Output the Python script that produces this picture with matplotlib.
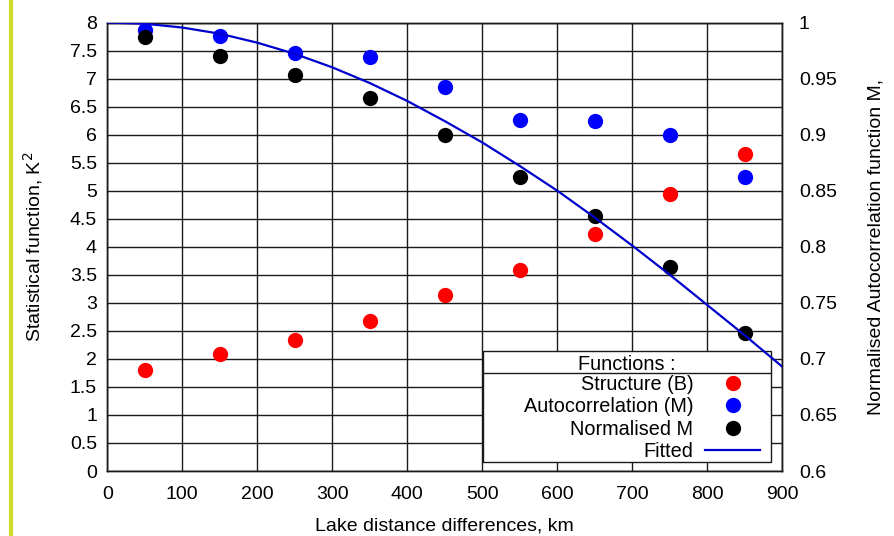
import matplotlib
matplotlib.use('Agg')
import matplotlib.pyplot as plt
from matplotlib.patches import Rectangle
from matplotlib.lines import Line2D

plt.rcParams['font.family'] = ['Liberation Sans', 'DejaVu Sans']
FS = 14
LFS = 14.3

# ---- data ----
distance_km = [50, 150, 250, 350, 450, 550, 650, 750, 850]
structure_B = [1.80, 2.08, 2.34, 2.68, 3.14, 3.59, 4.23, 4.94, 5.65]          # left axis (K^2)
autocorr_M = [0.9935, 0.988, 0.973, 0.969, 0.9425, 0.913, 0.9125, 0.8995, 0.8625]  # right axis
normalised_M = [0.9875, 0.9705, 0.953, 0.933, 0.900, 0.862, 0.827, 0.782, 0.723]   # right axis
fitted_km = [0, 50, 100, 150, 200, 250, 300, 350, 400, 450, 500, 550, 600, 650,
             700, 750, 800, 850, 900]
fitted_M = [1.0, 0.9989, 0.9955, 0.990, 0.982, 0.972, 0.960, 0.946, 0.930, 0.912,
            0.893, 0.872, 0.850, 0.826, 0.801, 0.775, 0.748, 0.721, 0.693]

x_ticks = [0, 100, 200, 300, 400, 500, 600, 700, 800, 900]
left_ticks = [0, 0.5, 1, 1.5, 2, 2.5, 3, 3.5, 4, 4.5, 5, 5.5, 6, 6.5, 7, 7.5, 8]
left_labels = ['0', '0.5', '1', '1.5', '2', '2.5', '3', '3.5', '4', '4.5', '5',
               '5.5', '6', '6.5', '7', '7.5', '8']
right_ticks = [0.6, 0.65, 0.7, 0.75, 0.8, 0.85, 0.9, 0.95, 1.0]
right_labels = ['0.6', '0.65', '0.7', '0.75', '0.8', '0.85', '0.9', '0.95', '1']

legend_labels = ['Structure (B)', 'Autocorrelation (M)', 'Normalised M', 'Fitted']

W, H = 894, 536
fig = plt.figure(figsize=(W / 100, H / 100), dpi=100)
ax = fig.add_axes([107.3 / W, 65 / H, 675 / W, 448.5 / H])
ax2 = ax.twinx()

ax.set_xlim(0, 900)
ax.set_ylim(0, 8)
ax2.set_ylim(0.6, 1.0)

ax.set_xticks(x_ticks)
ax.set_xticklabels([str(v) for v in x_ticks])
ax.set_yticks(left_ticks)
ax.set_yticklabels(left_labels)
ax2.set_yticks(right_ticks)
ax2.set_yticklabels(right_labels)

ax.tick_params(axis='y', length=0, pad=7.5, labelsize=FS)
ax.tick_params(axis='x', length=0, pad=11, labelsize=FS)
ax2.tick_params(axis='y', length=0, pad=12, labelsize=FS)

ax.grid(True, color='#1a1a1a', lw=1.0)
ax.set_axisbelow(True)
for a in (ax, ax2):
    for s in a.spines.values():
        s.set_color('#1a1a1a')
        s.set_linewidth(1.0)

h_red, = ax.plot(distance_km, structure_B, 'o', color='#ff0000', ms=11, mec='none', zorder=3)
h_blue, = ax2.plot(distance_km, autocorr_M, 'o', color='#0000ff', ms=11, mec='none', zorder=3)
h_black, = ax2.plot(distance_km, normalised_M, 'o', color='#000000', ms=11, mec='none', zorder=3)
h_fit, = ax2.plot(fitted_km, fitted_M, '-', color='#0000cc', lw=1.6, zorder=4)

# legend box
x0 = (483.3 - 107.3) / 675
x1 = (771 - 107.3) / 675
y0 = (471 - 461.5) / 448.5
y1 = (471 - 350.7) / 448.5
ysep = (471 - 372.7) / 448.5
ax.add_patch(Rectangle((x0, y0), x1 - x0, y1 - y0, transform=ax.transAxes,
                       facecolor='white', edgecolor='#1a1a1a', lw=1.0, zorder=4,
                       clip_on=False))
ax.add_line(Line2D([x0, x1], [ysep, ysep], transform=ax.transAxes, color='#1a1a1a',
                   lw=1.0, zorder=5, clip_on=False))
ax.text((x0 + x1) / 2, (471 - 364.2) / 448.5, 'Functions :', transform=ax.transAxes,
        ha='center', va='center', fontsize=LFS, zorder=6)

leg = ax.legend([h_red, h_blue, h_black, h_fit], legend_labels, loc='upper right',
                bbox_to_anchor=((760 - 107.3) / 675, (471 - 375) / 448.5),
                frameon=False, markerfirst=False, fontsize=LFS, borderpad=0,
                borderaxespad=0, labelspacing=0.17, handlelength=2.75,
                handletextpad=0.6, numpoints=1)
leg.set_zorder(6)

ax.set_xlabel('Lake distance differences, km', fontsize=FS, va='center')
ax.xaxis.set_label_coords(0.5, (471 - 526) / 448.5)
ax.set_ylabel('Statistical function, K$^2$', fontsize=FS, va='center')
ax.yaxis.set_label_coords((33 - 107.3) / 675, 0.5)
ax2.set_ylabel('Normalised Autocorrelation function M,', fontsize=FS, va='center')
ax2.yaxis.set_label_coords((876 - 107.3) / 675, 0.5)

fig.add_artist(Line2D([10.5 / W, 10.5 / W], [0, 1], transform=fig.transFigure,
                      color='#cedc2a', lw=3))

fig.savefig('out.png', dpi=100)
